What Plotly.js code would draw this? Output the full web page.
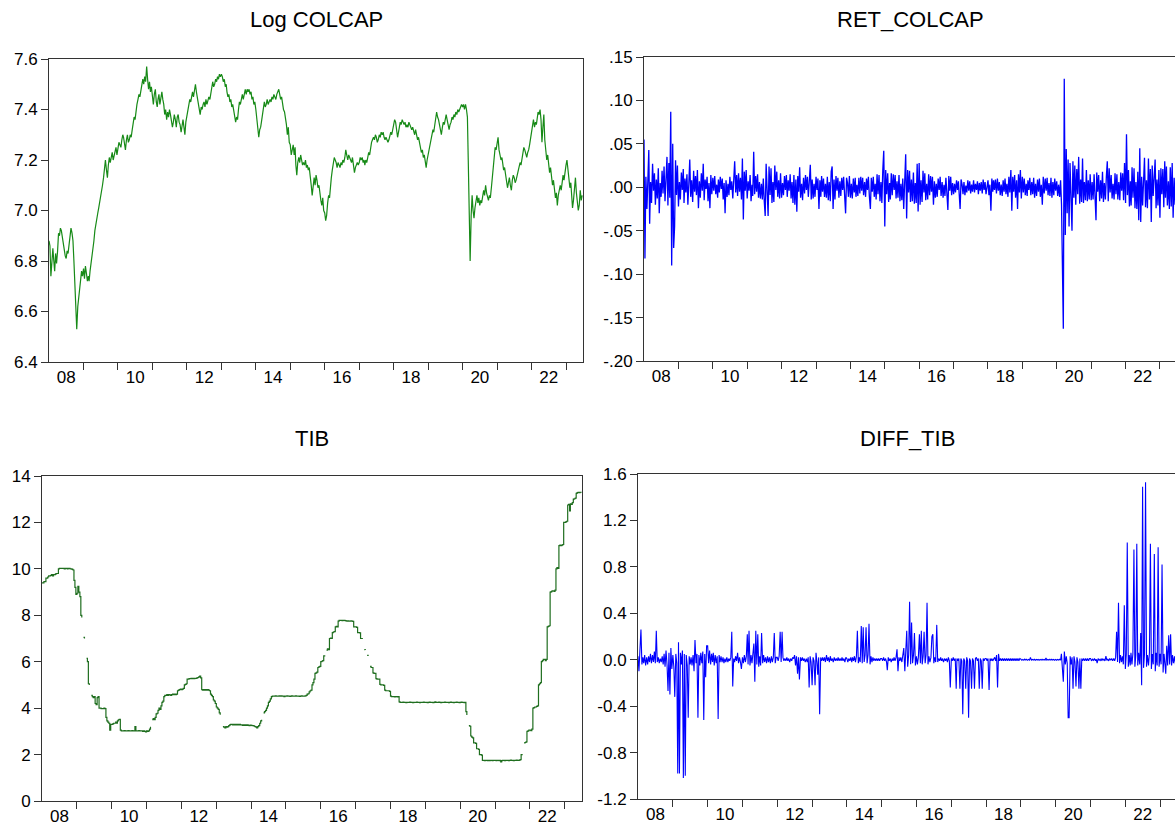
<!DOCTYPE html>
<html>
<head>
<meta charset="utf-8">
<script src="https://cdn.plot.ly/plotly-3.0.1.min.js"></script>
<style>
  html, body { margin: 0; padding: 0; background: #ffffff; }
  #chart { width: 1175px; height: 837px; }
</style>
</head>
<body>
<div id="chart"></div>
<script>
// ---- Sampling grid: values read on the 1st, 11th and 21st of each month, Jan 2008 - Jun 2023 ----
const firstYear = 2008;
const lastYear = 2023;
const lastMonthOfLastYear = 6;
const daysInMonth = [1, 11, 21];

// ---- Panel titles ----
const panelTitles = ['Log COLCAP', 'RET_COLCAP', 'TIB', 'DIFF_TIB'];

// ---- Tick labels ----
const yearLabelText = ['08', '10', '12', '14', '16', '18', '20', '22'];
const yearLabelYears = [2008, 2010, 2012, 2014, 2016, 2018, 2020, 2022];
const logTickVals = [6.4, 6.6, 6.8, 7.0, 7.2, 7.4, 7.6];
const logTickText = ['6.4', '6.6', '6.8', '7.0', '7.2', '7.4', '7.6'];
const retTickVals = [-0.20, -0.15, -0.10, -0.05, 0.00, 0.05, 0.10, 0.15];
const retTickText = ['-.20', '-.15', '-.10', '-.05', '.00', '.05', '.10', '.15'];
const tibTickVals = [0, 2, 4, 6, 8, 10, 12, 14];
const tibTickText = ['0', '2', '4', '6', '8', '10', '12', '14'];
const dtibTickVals = [-1.2, -0.8, -0.4, 0.0, 0.4, 0.8, 1.2, 1.6];
const dtibTickText = ['-1.2', '-0.8', '-0.4', '0.0', '0.4', '0.8', '1.2', '1.6'];

// ---- Log COLCAP ----
const logColcap = [
  6.88, 6.86, 6.74, 6.82, 6.85, 6.80, 6.76, 6.83, 6.79, 6.84, 6.91, 6.90, 6.93, 6.92, 6.89, 6.86, 6.84, 6.82, 6.81, 6.84, 6.83, 6.86, 6.90, 6.93, 6.91, 6.88, 6.80, 6.72, 6.60, 6.53, 6.62, 6.66, 6.70, 6.73, 6.76, 6.74,
  6.77, 6.73, 6.78, 6.75, 6.72, 6.74, 6.72, 6.76, 6.79, 6.80, 6.83, 6.88, 6.92, 6.95, 6.97, 6.99, 7.01, 7.03, 7.05, 7.07, 7.10, 7.13, 7.18, 7.20, 7.16, 7.13, 7.18, 7.21, 7.19, 7.22, 7.23, 7.20, 7.22, 7.23, 7.25, 7.22,
  7.24, 7.27, 7.26, 7.25, 7.28, 7.30, 7.29, 7.26, 7.24, 7.28, 7.30, 7.27, 7.28, 7.30, 7.29, 7.32, 7.35, 7.37, 7.36, 7.40, 7.42, 7.44, 7.46, 7.45, 7.47, 7.49, 7.52, 7.50, 7.53, 7.51, 7.57, 7.52, 7.48, 7.51, 7.47, 7.49,
  7.45, 7.42, 7.46, 7.48, 7.43, 7.41, 7.44, 7.46, 7.42, 7.45, 7.47, 7.44, 7.42, 7.38, 7.40, 7.36, 7.39, 7.37, 7.40, 7.38, 7.36, 7.33, 7.35, 7.38, 7.36, 7.33, 7.37, 7.38, 7.35, 7.34, 7.31, 7.35, 7.36, 7.33, 7.30, 7.35,
  7.37, 7.40, 7.42, 7.44, 7.43, 7.46, 7.47, 7.45, 7.48, 7.50, 7.47, 7.45, 7.43, 7.40, 7.38, 7.41, 7.40, 7.42, 7.43, 7.41, 7.44, 7.42, 7.44, 7.45, 7.44, 7.47, 7.50, 7.51, 7.49, 7.50, 7.52, 7.51, 7.53, 7.52, 7.54, 7.53,
  7.54, 7.53, 7.51, 7.52, 7.49, 7.50, 7.47, 7.45, 7.46, 7.43, 7.44, 7.41, 7.42, 7.40, 7.38, 7.35, 7.37, 7.36, 7.40, 7.43, 7.42, 7.45, 7.46, 7.44, 7.47, 7.48, 7.46, 7.48, 7.47, 7.48, 7.46, 7.47, 7.44, 7.45, 7.42, 7.43,
  7.40, 7.36, 7.31, 7.29, 7.32, 7.33, 7.35, 7.38, 7.42, 7.43, 7.41, 7.42, 7.44, 7.42, 7.43, 7.44, 7.43, 7.45, 7.44, 7.46, 7.45, 7.44, 7.46, 7.47, 7.48, 7.46, 7.44, 7.45, 7.42, 7.40, 7.39, 7.37, 7.34, 7.30, 7.33, 7.27,
  7.26, 7.22, 7.24, 7.26, 7.22, 7.25, 7.18, 7.14, 7.19, 7.21, 7.19, 7.22, 7.20, 7.18, 7.19, 7.18, 7.20, 7.17, 7.18, 7.16, 7.17, 7.14, 7.10, 7.06, 7.11, 7.13, 7.10, 7.14, 7.12, 7.09, 7.10, 7.06, 7.04, 7.02, 7.05, 7.00,
  6.99, 6.96, 6.98, 7.03, 7.06, 7.05, 7.10, 7.13, 7.16, 7.18, 7.21, 7.20, 7.19, 7.17, 7.19, 7.18, 7.17, 7.19, 7.18, 7.20, 7.19, 7.21, 7.24, 7.22, 7.20, 7.22, 7.21, 7.20, 7.19, 7.21, 7.17, 7.15, 7.17, 7.18, 7.19, 7.18,
  7.19, 7.21, 7.20, 7.21, 7.19, 7.20, 7.18, 7.20, 7.19, 7.21, 7.23, 7.22, 7.25, 7.27, 7.28, 7.29, 7.28, 7.30, 7.29, 7.27, 7.28, 7.30, 7.29, 7.31, 7.30, 7.31, 7.29, 7.28, 7.29, 7.28, 7.27, 7.28, 7.30, 7.31, 7.30, 7.32,
  7.33, 7.36, 7.35, 7.32, 7.29, 7.31, 7.33, 7.35, 7.34, 7.36, 7.35, 7.34, 7.35, 7.33, 7.34, 7.33, 7.35, 7.34, 7.33, 7.32, 7.33, 7.31, 7.30, 7.32, 7.30, 7.28, 7.29, 7.27, 7.25, 7.23, 7.24, 7.21, 7.22, 7.19, 7.17, 7.20,
  7.22, 7.25, 7.27, 7.29, 7.30, 7.32, 7.31, 7.34, 7.36, 7.39, 7.37, 7.36, 7.34, 7.32, 7.30, 7.33, 7.35, 7.34, 7.36, 7.38, 7.36, 7.33, 7.32, 7.34, 7.35, 7.37, 7.36, 7.38, 7.37, 7.39, 7.38, 7.40, 7.39, 7.40, 7.41, 7.42,
  7.41, 7.42, 7.40, 7.42, 7.40, 7.37, 7.20, 6.95, 6.80, 6.98, 7.06, 7.00, 6.97, 7.01, 7.04, 7.06, 7.03, 7.05, 7.02, 7.04, 7.03, 7.05, 7.08, 7.06, 7.10, 7.07, 7.05, 7.04, 7.06, 7.05, 7.09, 7.14, 7.19, 7.22, 7.25, 7.24,
  7.27, 7.29, 7.24, 7.22, 7.20, 7.21, 7.18, 7.16, 7.17, 7.14, 7.12, 7.09, 7.11, 7.13, 7.10, 7.08, 7.12, 7.14, 7.13, 7.11, 7.12, 7.14, 7.16, 7.18, 7.19, 7.18, 7.21, 7.23, 7.25, 7.24, 7.22, 7.21, 7.23, 7.24, 7.26, 7.29,
  7.31, 7.34, 7.36, 7.33, 7.35, 7.34, 7.37, 7.39, 7.38, 7.40, 7.36, 7.27, 7.33, 7.38, 7.28, 7.24, 7.20, 7.22, 7.18, 7.15, 7.17, 7.13, 7.10, 7.12, 7.08, 7.05, 7.07, 7.02, 7.06, 7.09, 7.10, 7.08, 7.12, 7.14, 7.12, 7.16,
  7.18, 7.20, 7.16, 7.12, 7.09, 7.11, 7.06, 7.01, 7.04, 7.10, 7.13, 7.07, 7.04, 7.00, 7.02, 7.08, 7.04, 7.06
];

// ---- RET_COLCAP ----
const retColcap = [
  .055, -.082, .012, -.025, .008, .043, -.042, .006, -.018, .027, -.004, .016, -.020, .009, -.013, .022, -.030, .005, -.011, .019, -.007, .024, -.016, .003, .035, -.021, .028, -.012, .087, -.090, .050, -.070, -.045, .031, -.009, .025,
  -.022, .006, -.014, .017, -.003, .021, -.018, .010, -.006, .015, -.020, .004, .032, -.011, .008, -.017, .019, -.005, .013, -.009, .020, -.024, .007, -.012, .016, -.004, .027, -.015, .009, -.002, .012, -.016, .005, -.024, .014, -.008,
  .011, -.004, .013, -.008, .003, -.012, .009, -.006, .012, -.002, .010, -.014, .005, -.030, .008, -.011, .004, -.009, .012, -.003, .007, -.013, .010, .030, -.006, .014, -.010, .016, -.005, .011, -.014, .033, -.037, .018, -.004, .020,
  -.013, .007, -.004, .014, -.016, .003, -.010, .041, -.008, .013, -.005, .015, -.012, .006, -.013, .004, -.014, .010, -.016, -.033, .027, -.022, -.033, .024, -.009, .022, -.018, .006, -.017, .025, -.003, .018, -.011, .008, -.013, .016,
  -.012, .005, -.009, .013, -.003, .014, -.011, .008, -.004, .015, -.013, .006, -.018, .014, -.020, .009, -.028, .013, -.005, .023, -.012, .004, -.015, .011, -.007, .014, -.003, .012, -.011, .006, .026, -.014, .009, -.013, .004, -.011,
  .012, -.003, .010, -.025, .008, -.011, .013, -.005, .010, -.011, .004, -.012, .012, -.015, .006, -.016, .018, .024, -.025, .009, -.014, .013, -.004, .011, -.012, .007, -.010, .011, -.003, .012, -.008, -.030, .011, .005, -.011, .013,
  -.012, .004, -.013, .010, -.006, .011, -.011, .003, -.010, .011, -.007, .012, -.004, .011, -.009, .006, -.011, .010, -.003, .012, -.010, -.025, .011, -.005, .012, -.011, .004, -.014, .015, -.008, .014, -.016, .006, -.018, .020, .042,
  -.045, .020, -.008, .016, -.017, .005, -.014, .016, -.009, .015, -.003, .014, -.013, .007, -.012, .014, -.016, .004, -.015, .010, -.025, .016, .038, -.036, .020, -.006, .019, -.017, .009, -.016, .017, -.019, .005, -.018, .027, -.028,
  .028, -.020, .008, -.017, .019, -.006, .016, -.015, .004, -.014, .015, -.009, .013, -.005, .012, -.020, .007, -.012, .004, -.011, .010, -.003, .012, -.010, .006, -.012, .003, -.010, .011, -.006, -.026, .013, -.004, .012, -.009, .005,
  -.008, .004, -.006, .008, -.003, .007, -.005, -.025, .009, .003, -.008, .006, -.009, .002, -.006, .008, -.004, .007, -.007, .003, -.005, .008, -.006, .004, -.003, .007, -.008, .005, -.004, .006, -.007, .009, -.003, .006, -.008, .004,
  .008, -.009, .003, -.027, .010, -.005, .008, -.003, .009, -.007, .010, -.004, .006, -.009, .003, -.010, .008, -.005, .010, -.008, .004, -.011, .012, -.006, .020, -.027, .012, -.005, .014, -.012, .008, -.025, .015, -.006, .020, -.013,
  .012, -.006, .010, -.009, .004, -.010, .008, -.003, .011, -.009, .006, -.008, .011, -.012, .004, -.010, .009, -.005, .010, -.011, .003, -.020, .012, -.007, .010, -.004, .011, -.009, .005, -.010, .011, -.012, .006, -.009, .010, -.004,
  .007, -.010, .003, -.011, .008, -.020, -.110, -.163, .125, -.055, .044, -.030, .032, -.045, .028, -.025, -.050, .030, -.012, .025, -.020, .021, -.008, .035, -.019, .009, -.017, .033, -.018, .006, -.015, .020, -.016, .008, -.014, .015,
  -.015, .006, -.014, .015, -.007, -.038, .017, -.005, .014, -.016, .008, -.013, .018, -.017, .005, -.014, .012, .030, -.016, .022, -.006, .014, -.013, .004, -.014, .016, -.008, .015, -.014, .006, -.015, .017, -.004, .016, -.015, .028,
  -.018, .061, -.009, .020, -.022, .007, -.021, .023, -.012, .022, -.024, .006, -.025, .018, -.038, .045, -.040, .012, -.021, .024, .034, -.023, .008, -.024, .033, -.014, .021, -.040, .025, -.010, .022, .032, -.024, .009, -.021, .020,
  -.035, .022, -.008, .021, -.023, .030, -.012, .024, -.021, .007, -.025, .023, -.022, .028, -.035, .011, -.020, .022
];

// ---- TIB ----
const tib = [
  9.40, 9.40, 9.45, 9.45, 9.60, 9.60, 9.65, 9.70, 9.70, 9.72, 9.75, 9.70, 9.75, 9.75, 9.78, 9.80, 9.80, 10.00, 10.02, 10.02, 10.02, 10.02, 10.02, 10.00, 10.02, 10.02, 10.00, 10.02, 10.02, 10.00, 10.00, 9.98, 9.95, 9.50, 9.20, 8.90,
  8.95, 9.25, 9.00, 8.80, 8.00, 7.90, null, 7.05, 7.00, null, 6.15, 6.00, 5.05, 5.00, null, 4.55, 4.50, 4.45, 4.50, 4.20, 4.15, 4.45, 4.50, 4.00, 4.00, 3.98, 3.98, 3.98, 4.00, 3.98, 3.60, 3.45, 3.40, 3.35, 3.05, 3.30,
  3.30, 3.32, 3.35, 3.35, 3.40, 3.35, 3.45, 3.50, 3.52, 3.05, 3.02, 3.02, 3.02, 3.03, 3.02, 3.02, 3.02, 3.03, 3.02, 3.02, 3.02, 3.03, 3.02, 3.02, 3.20, 3.02, 3.02, 3.02, 3.03, 3.02, 3.02, 3.02, 3.00, 3.02, 3.00, 2.98,
  3.02, 3.00, 3.02, 3.10, 3.20, null, 3.50, 3.55, 3.50, 3.60, 3.75, 3.78, 3.90, 4.00, 3.95, 4.10, 4.25, 4.30, 4.50, 4.55, 4.55, 4.58, 4.55, 4.58, 4.57, 4.55, 4.58, 4.60, 4.58, 4.60, 4.58, 4.60, 4.75, 4.78, 4.80, 4.82,
  4.80, 4.82, 4.85, 5.00, 5.02, 5.05, 5.25, 5.25, 5.27, 5.27, 5.28, 5.27, 5.28, 5.27, 5.28, 5.28, 5.30, 5.32, 5.35, 5.38, 5.30, 4.80, 4.78, 4.80, 4.78, 4.80, 4.78, 4.80, 4.78, 4.75, 4.60, 4.55, 4.50, 4.35, 4.30, 4.20,
  4.05, 4.00, 3.95, 3.80, 3.72, null, null, 3.20, 3.18, 3.15, 3.20, 3.18, 3.20, 3.25, 3.28, 3.30, 3.30, 3.28, 3.30, 3.28, 3.30, 3.28, 3.30, 3.28, 3.30, 3.28, 3.28, 3.26, 3.28, 3.26, 3.28, 3.26, 3.28, 3.26, 3.25, 3.27,
  3.26, 3.25, 3.25, 3.22, 3.20, 3.18, 3.15, 3.20, 3.25, 3.35, 3.45, 3.50, null, 3.80, 3.85, 3.90, 4.00, 4.10, 4.25, 4.30, 4.40, 4.50, 4.52, 4.52, 4.52, 4.53, 4.52, 4.52, 4.52, 4.53, 4.52, 4.53, 4.52, 4.52, 4.50, 4.52,
  4.52, 4.53, 4.52, 4.52, 4.51, 4.52, 4.53, 4.52, 4.52, 4.52, 4.53, 4.52, 4.52, 4.52, 4.51, 4.52, 4.53, 4.52, 4.52, 4.52, 4.53, 4.55, 4.60, 4.62, 4.70, 4.75, 4.78, 5.00, 5.10, 5.25, 5.50, 5.52, 5.55, 5.75, 5.78, 5.80,
  6.00, 6.02, 6.05, 6.25, 6.28, null, 6.50, 6.55, 6.52, 7.00, 7.02, 7.00, 7.25, 7.28, 7.30, 7.50, 7.52, 7.50, 7.75, 7.78, 7.78, 7.78, 7.77, 7.78, 7.78, 7.77, 7.76, 7.75, 7.76, 7.75, 7.75, 7.76, 7.75, 7.74, 7.50, 7.50,
  7.50, 7.48, 7.25, 7.25, 7.24, 7.00, 7.00, 6.98, null, 6.52, 6.50, null, 6.27, 6.25, null, 5.80, 5.75, 5.75, 5.52, 5.50, 5.50, 5.27, 5.25, 5.25, 5.25, 5.02, 5.00, 5.00, 5.00, 4.98, 4.78, 4.75, 4.75, 4.75, 4.75, 4.72,
  4.52, 4.50, 4.50, 4.50, 4.48, 4.50, 4.50, 4.48, 4.50, 4.27, 4.25, 4.25, 4.25, 4.26, 4.25, 4.25, 4.24, 4.25, 4.25, 4.25, 4.26, 4.25, 4.25, 4.24, 4.25, 4.25, 4.25, 4.26, 4.25, 4.25, 4.24, 4.25, 4.25, 4.25, 4.26, 4.25,
  4.25, 4.25, 4.24, 4.25, 4.26, 4.25, 4.25, 4.25, 4.24, 4.25, 4.27, 4.25, 4.25, 4.25, 4.26, 4.25, 4.24, 4.25, 4.25, 4.25, 4.26, 4.25, 4.25, 4.25, 4.24, 4.25, 4.26, 4.25, 4.25, 4.24, 4.25, 4.25, 4.26, 4.25, 4.25, 4.24,
  4.25, 4.26, 4.25, 4.25, 4.24, 4.25, 3.85, 3.70, null, 3.25, 3.22, 2.80, 2.75, 2.72, 2.50, 2.50, 2.48, 2.25, 2.25, 2.22, 2.00, 2.00, 1.98, 1.75, 1.75, 1.74, 1.75, 1.75, 1.74, 1.75, 1.74, 1.75, 1.75, 1.74, 1.75, 1.75,
  1.75, 1.74, 1.75, 1.75, 1.74, 1.75, 1.68, 1.74, 1.75, 1.75, 1.74, 1.75, 1.75, 1.75, 1.74, 1.75, 1.76, 1.75, 1.75, 1.74, 1.75, 1.75, 1.76, 1.75, 1.75, 1.76, 1.78, 2.00, 2.02, null, 2.50, 2.52, 2.55, 3.00, 3.02, 3.05,
  3.05, 3.03, 3.10, 4.00, 4.02, 4.05, 4.05, 4.08, 4.10, 5.00, 5.05, 5.10, 6.00, 6.05, 6.10, 6.10, 6.05, 6.10, 7.50, 7.52, 7.55, 9.00, 9.02, 9.05, 9.05, 9.03, 9.08, 10.00, 10.05, 10.02, 11.00, 11.02, 11.00, 11.02, 11.05, 12.00,
  12.00, 12.02, 12.05, 12.75, 12.78, 12.50, 12.80, 12.78, 12.85, 13.00, 13.02, 13.05, 13.25, 13.28, 13.30, 13.28, 13.30, 13.28
];

// ---- DIFF_TIB ----
const diffTib = [
  0.03, -0.10, 0.08, 0.26, -0.04, 0.02, -0.03, 0.04, -0.05, 0.02, -0.04, 0.03, -0.02, 0.05, -0.03, 0.04, -0.02, 0.07, -0.03, 0.25, -0.02, 0.02, -0.03, 0.01, -0.02, 0.03, -0.04, 0.05, -0.06, 0.08, -0.05, -0.27, 0.06, -0.30, 0.10, -0.08,
  0.04, -0.06, -0.32, 0.05, -0.03, -0.98, 0.15, -0.98, 0.06, -0.04, 0.08, -1.02, 0.05, -1.00, 0.04, -0.05, -0.50, 0.03, -0.04, 0.02, -0.05, 0.04, -0.10, 0.17, -0.03, 0.05, -0.50, 0.04, -0.05, 0.06, -0.03, 0.07, -0.52, 0.05, -0.15, 0.12,
  0.12, -0.03, 0.08, -0.04, 0.05, -0.02, 0.06, -0.05, 0.04, -0.03, 0.03, -0.51, 0.04, -0.02, 0.03, -0.02, 0.02, -0.03, 0.01, -0.02, 0.02, -0.02, 0.01, -0.01, 0.02, 0.24, -0.23, 0.01, -0.02, 0.03, -0.01, 0.06, -0.03, 0.02, -0.02, -0.08,
  0.02, -0.03, 0.04, -0.02, 0.03, 0.22, -0.04, 0.25, -0.05, 0.04, -0.03, 0.05, 0.14, -0.19, 0.25, -0.04, 0.22, -0.06, 0.03, -0.05, 0.23, -0.03, 0.04, -0.02, 0.02, -0.03, 0.03, -0.02, 0.02, -0.03, 0.03, -0.02, 0.02, 0.23, -0.03, 0.02,
  0.02, -0.01, 0.03, 0.24, -0.02, 0.24, 0.02, -0.01, 0.01, -0.01, 0.02, -0.01, 0.01, -0.02, 0.01, -0.01, 0.02, 0.01, 0.04, -0.05, 0.03, -0.12, 0.02, -0.17, 0.02, -0.01, 0.02, -0.01, 0.01, -0.02, 0.01, -0.02, 0.02, -0.24, 0.03, -0.02,
  -0.22, 0.02, -0.01, -0.22, 0.06, -0.02, -0.13, 0.02, -0.47, 0.02, -0.01, 0.02, -0.01, 0.02, -0.02, 0.04, -0.01, 0.02, -0.02, 0.03, -0.01, 0.01, -0.02, 0.02, -0.01, 0.01, -0.01, 0.02, -0.01, 0.01, -0.01, 0.02, -0.01, 0.01, -0.02, 0.02,
  0.01, -0.02, 0.01, -0.01, 0.02, -0.02, 0.02, -0.01, 0.03, -0.02, 0.03, 0.25, -0.03, 0.02, -0.02, 0.29, -0.03, 0.28, -0.02, 0.04, 0.28, -0.03, 0.04, 0.31, -0.04, 0.03, -0.02, 0.02, -0.01, 0.01, -0.01, 0.01, -0.01, 0.01, -0.01, 0.01,
  0.01, -0.01, 0.02, -0.01, 0.01, -0.02, -0.09, 0.02, -0.01, 0.01, -0.02, 0.01, -0.01, 0.02, -0.01, 0.02, 0.09, -0.10, 0.02, -0.01, 0.02, -0.02, 0.03, 0.10, -0.10, 0.03, 0.25, -0.06, 0.04, 0.50, -0.04, 0.32, -0.03, 0.04, 0.23, -0.05,
  0.03, -0.04, 0.02, 0.22, -0.03, 0.25, -0.04, 0.03, 0.24, -0.03, 0.04, 0.49, -0.04, 0.03, -0.02, 0.02, 0.20, 0.22, -0.03, 0.02, -0.02, 0.30, -0.02, 0.01, -0.01, 0.02, -0.01, 0.01, -0.02, 0.01, -0.01, 0.01, -0.02, 0.02, -0.01, -0.24,
  0.01, -0.01, 0.02, -0.01, 0.01, -0.25, 0.01, -0.01, 0.01, -0.25, 0.01, -0.01, -0.47, 0.01, -0.01, -0.25, 0.02, -0.01, -0.50, 0.01, -0.01, -0.25, 0.01, -0.01, -0.25, 0.01, 0.02, -0.01, 0.01, -0.25, 0.01, -0.01, -0.25, 0.01, -0.01, 0.01,
  0.01, -0.01, 0.01, -0.26, 0.01, -0.01, 0.01, -0.01, 0.01, 0.02, -0.01, 0.04, -0.24, 0.05, -0.01, 0.01, -0.01, 0.01, -0.01, 0.01, -0.01, 0.01, -0.01, 0.01, -0.01, 0.01, -0.01, 0.01, -0.01, 0.01, -0.01, 0.01, -0.01, 0.01, -0.01, 0.01,
  0.005, -0.005, 0.003, -0.004, 0.005, -0.003, 0.004, -0.005, 0.003, -0.003, 0.02, -0.004, 0.003, -0.003, 0.004, -0.004, 0.003, -0.003, 0.003, -0.004, 0.003, -0.003, 0.004, -0.003, 0.003, -0.004, 0.015, -0.004, 0.003, -0.003, 0.004, -0.003, 0.004, -0.003, 0.003, -0.004,
  0.003, -0.004, 0.003, -0.003, 0.004, -0.003, 0.05, -0.04, -0.19, 0.07, -0.04, 0.03, -0.03, -0.50, -0.50, 0.03, -0.04, 0.02, -0.25, 0.03, -0.02, -0.23, 0.02, -0.02, -0.25, 0.01, -0.25, 0.01, -0.01, 0.01, -0.01, 0.01, -0.01, 0.01, -0.01, 0.01,
  0.01, -0.01, 0.005, -0.005, 0.01, -0.01, 0.005, -0.03, 0.01, -0.005, 0.005, -0.01, 0.01, -0.005, 0.005, -0.01, 0.03, -0.005, 0.005, -0.01, 0.01, -0.005, 0.01, -0.01, 0.01, -0.01, 0.02, 0.24, -0.02, 0.49, -0.03, 0.04, -0.02, 0.03, -0.04, 0.47,
  -0.08, 0.05, 1.01, -0.06, 0.04, -0.05, 0.06, -0.04, 0.05, 0.95, -0.06, 0.04, 1.00, -0.05, 0.06, -0.04, 0.23, -0.22, 1.49, -0.07, 0.05, 1.53, -0.06, 0.04, -0.05, 0.06, 1.00, -0.08, 0.05, -0.04, 0.91, -0.10, 0.06, -0.05, 0.97, -0.06,
  0.05, -0.04, 0.82, -0.11, 0.05, -0.04, -0.12, 0.12, -0.05, 0.21, -0.04, 0.22, -0.05, 0.04, -0.03, 0.03, -0.04, 0.02
];

// ---- Build the date axis from the sampling grid ----
function pad(n) { return (n < 10 ? '0' : '') + n; }
const dates = [];
for (let y = firstYear; y <= lastYear; y++) {
  for (let m = 1; m <= 12; m++) {
    if (y === lastYear && m > lastMonthOfLastYear) break;
    for (const d of daysInMonth) dates.push(y + '-' + pad(m) + '-' + pad(d));
  }
}
const yearStarts = [];
for (let y = firstYear + 1; y <= lastYear; y++) yearStarts.push(y + '-01-01');
const yearLabelPos = yearLabelYears.map(y => y + '-07-02');

const FONT = 'Liberation Sans, Arial, Helvetica, sans-serif';
const AX = '#333333';
const GREEN = '#178a17';
const DARKGREEN = '#1f6e1f';
const BLUE = '#0000ff';
const TICKSIZE = 17;

function xAxis(domain, anchor, range) {
  return {
    type: 'date', domain: domain, anchor: anchor, range: range,
    tickmode: 'array', tickvals: yearLabelPos, ticktext: yearLabelText,
    ticks: '', showgrid: false, zeroline: false,
    showline: true, linecolor: AX, linewidth: 1, mirror: true,
    tickfont: { family: FONT, size: TICKSIZE, color: '#000' },
    minor: { tickmode: 'array', tickvals: yearStarts, ticks: 'outside', ticklen: 7, tickwidth: 1, tickcolor: AX, showgrid: false },
    automargin: false, fixedrange: true
  };
}
function yAxis(domain, anchor, range, vals, text, mirror) {
  return {
    domain: domain, anchor: anchor, range: range,
    tickmode: 'array', tickvals: vals, ticktext: text,
    ticks: 'outside', ticklen: 7, tickwidth: 1, tickcolor: AX,
    showgrid: false, zeroline: false,
    showline: true, linecolor: AX, linewidth: 1, mirror: mirror,
    tickfont: { family: FONT, size: TICKSIZE, color: '#000' },
    automargin: false, fixedrange: true
  };
}

const W = 1175, H = 837;
function dx(a, b) { return [a / W, Math.min(1, b / W)]; }
function dy(top, bottom) { return [(H - bottom) / H, (H - top) / H]; }

const traces = [
  { x: dates, y: logColcap, xaxis: 'x', yaxis: 'y', type: 'scatter', mode: 'lines',
    line: { color: GREEN, width: 1.2 }, hoverinfo: 'skip' },
  { x: dates, y: retColcap, xaxis: 'x2', yaxis: 'y2', type: 'scatter', mode: 'lines',
    line: { color: BLUE, width: 1.3 }, hoverinfo: 'skip' },
  { x: dates, y: tib, xaxis: 'x3', yaxis: 'y3', type: 'scatter', mode: 'lines',
    line: { color: DARKGREEN, width: 1.2, shape: 'hv' }, connectgaps: false, hoverinfo: 'skip' },
  { x: dates, y: diffTib, xaxis: 'x4', yaxis: 'y4', type: 'scatter', mode: 'lines',
    line: { color: BLUE, width: 1.1 }, hoverinfo: 'skip' }
];

const d1x = dx(49, 583), d1y = dy(59, 362);
const d2x = dx(644, 1175), d2y = dy(57, 361);
const d3x = dx(42, 582), d3y = dy(476, 801);
const d4x = dx(638, 1175), d4y = dy(474, 799);

function title(text, cx, cy) {
  return { text: text, xref: 'paper', yref: 'paper', x: cx / W, y: (H - cy) / H,
    xanchor: 'center', yanchor: 'middle', showarrow: false,
    font: { family: FONT, size: 22, color: '#000' } };
}

const layout = {
  width: W, height: H,
  margin: { l: 0, r: 0, t: 0, b: 0, pad: 0 },
  paper_bgcolor: '#ffffff', plot_bgcolor: '#ffffff',
  showlegend: false,
  xaxis: xAxis(d1x, 'y', ['2008-01-01', '2023-06-30']),
  yaxis: yAxis(d1y, 'x', [6.4, 7.6], logTickVals, logTickText, true),
  xaxis2: xAxis(d2x, 'y2', ['2008-01-01', '2023-06-10']),
  yaxis2: yAxis(d2y, 'x2', [-0.20, 0.15], retTickVals, retTickText, false),
  xaxis3: xAxis(d3x, 'y3', ['2008-01-01', '2023-07-01']),
  yaxis3: yAxis(d3y, 'x3', [0, 14], tibTickVals, tibTickText, true),
  xaxis4: xAxis(d4x, 'y4', ['2008-01-01', '2023-06-06']),
  yaxis4: yAxis(d4y, 'x4', [-1.2, 1.6], dtibTickVals, dtibTickText, false),
  annotations: [
    title(panelTitles[0], 316, 20),
    title(panelTitles[1], 910, 20),
    title(panelTitles[2], 312, 438),
    title(panelTitles[3], 907, 438)
  ]
};

Plotly.newPlot('chart', traces, layout, { staticPlot: true, displayModeBar: false });
</script>
</body>
</html>
